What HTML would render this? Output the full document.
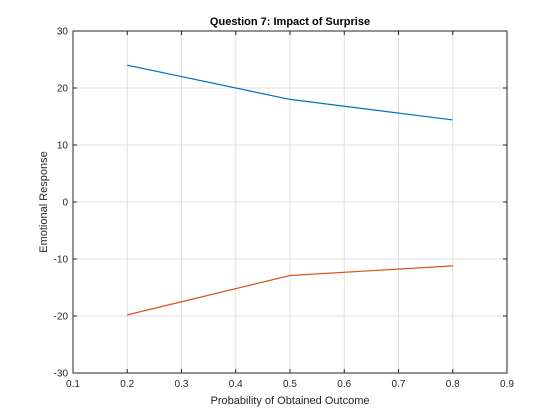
<!DOCTYPE html>
<html><head><meta charset="utf-8"><style>
body{margin:0;background:#fff;}
svg{display:block;font-family:"Liberation Sans",Helvetica,sans-serif;}
</style></head><body>
<svg id="chart" width="560" height="420" viewBox="0 0 560 420">
<rect x="0" y="0" width="560" height="420" fill="#fff"/>
<g id="grid"></g>
<g id="series"></g>
<rect x="73" y="31" width="434" height="342" fill="none" stroke="#262626" stroke-width="1"/>
<g id="ticks"></g>
<text x="290" y="25" text-anchor="middle" font-size="11" font-weight="bold" fill="#000">Question 7: Impact of Surprise</text>
<text x="290" y="404" text-anchor="middle" font-size="11" fill="#262626">Probability of Obtained Outcome</text>
<text transform="translate(47,202) rotate(-90)" text-anchor="middle" font-size="11" fill="#262626">Emotional Response</text>
</svg>
<script>
const xTicks=[0.1,0.2,0.3,0.4,0.5,0.6,0.7,0.8,0.9];
const yTicks=[-30,-20,-10,0,10,20,30];
const xValues=[0.2,0.5,0.8];
const positiveSeries=[24,18,14.4];
const negativeSeries=[-19.8,-12.9,-11.2];
const NS="http://www.w3.org/2000/svg";
function sx(v){return 73+(v-0.1)/0.8*434;}
function sy(v){return 31+(30-v)/60*342;}
const grid=document.getElementById('grid'),ticks=document.getElementById('ticks'),series=document.getElementById('series');
function mk(tag,attrs,parent){const e=document.createElementNS(NS,tag);for(const k in attrs)e.setAttribute(k,attrs[k]);parent.appendChild(e);return e;}
xTicks.forEach(t=>{
 const x=sx(t);
 const g=mk('line',{x1:x,x2:x,y1:31,y2:373,stroke:'#dfdfdf','stroke-width':1},grid);
 
 
 const tk=mk('line',{x1:x,x2:x,y1:373,y2:369,stroke:'#262626'},ticks);
 
 
 const tk2=mk('line',{x1:x,x2:x,y1:31,y2:35,stroke:'#262626'},ticks);
 
 
 const l=mk('text',{x:x,y:387,'text-anchor':'middle','font-size':10,fill:'#262626'},ticks);
 l.textContent=t.toFixed(1);
 
 
});
yTicks.forEach(t=>{
 const y=sy(t);
 const g=mk('line',{x1:73,x2:507,y1:y,y2:y,stroke:'#dfdfdf','stroke-width':1},grid);
 
 
 const tk=mk('line',{x1:73,x2:77,y1:y,y2:y,stroke:'#262626'},ticks);
 
 
 const tk2=mk('line',{x1:503,x2:507,y1:y,y2:y,stroke:'#262626'},ticks);
 
 
 const l=mk('text',{x:68,y:y+3.5,'text-anchor':'end','font-size':10,fill:'#262626'},ticks);
 l.textContent=String(t);
 
 
});
function line(vals,color,name){
 const p=mk('polyline',{points:vals.map((v,i)=>sx(xValues[i])+','+sy(v)).join(' '),fill:'none',stroke:color,'stroke-width':1.2},series);
 
 
}
line(positiveSeries,'#0072bd','positive-series-line');
line(negativeSeries,'#d95319','negative-series-line');
</script>
</body></html>
